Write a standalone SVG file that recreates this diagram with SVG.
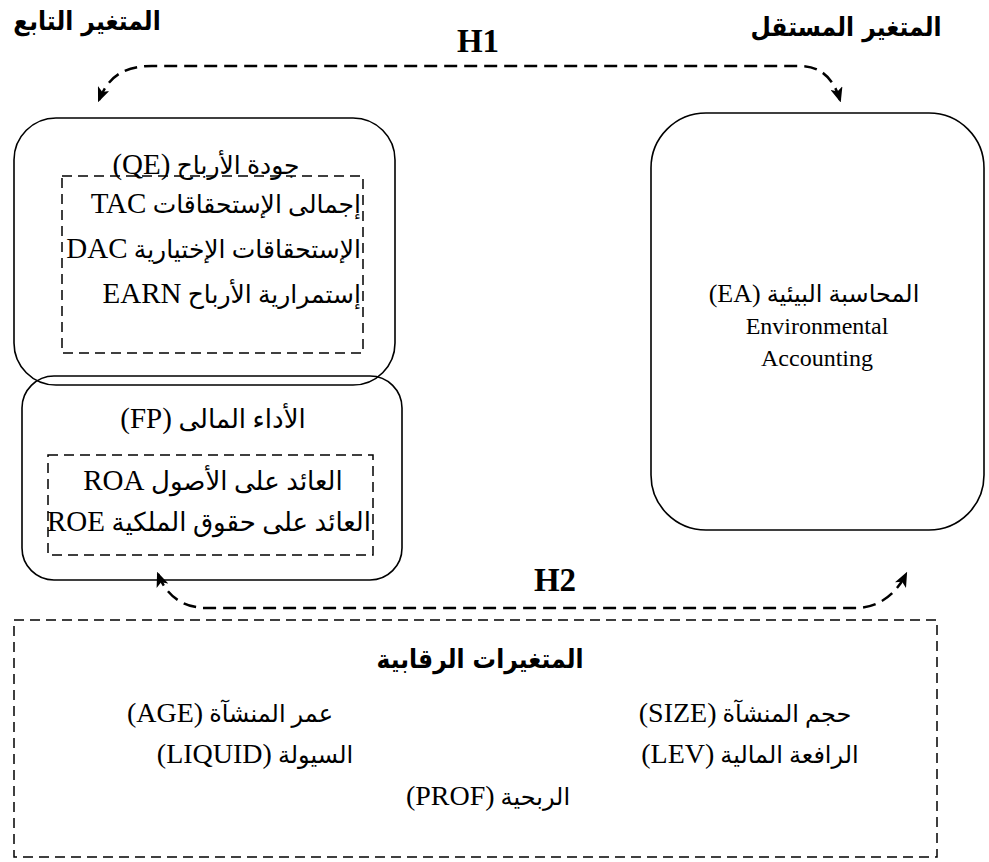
<svg xmlns="http://www.w3.org/2000/svg" width="989" height="862" viewBox="0 0 989 862">
<style>
text{font-family:"Liberation Serif","DejaVu Sans",serif;fill:#000}
.t{font-size:24px}
.q{font-size:25px}
.f{font-size:26px}
.L{font-size:29px}
.Lc{font-size:28px}
.h{font-size:26px;font-weight:bold;font-family:"DejaVu Sans Condensed","DejaVu Sans",sans-serif;font-stretch:condensed}
.hl{font-size:33px;font-weight:bold}
.box{fill:none;stroke:#000;stroke-width:1.6}
.dbox{fill:none;stroke:#000;stroke-width:1.5;stroke-dasharray:10 6}
.conn{fill:none;stroke:#000;stroke-width:2.5;stroke-dasharray:13 7}
</style>
<defs>
<marker id="ah" viewBox="0 0 12 10" refX="10" refY="5" markerWidth="6" markerHeight="5" markerUnits="strokeWidth" orient="auto-start-reverse">
<path d="M0,0 L12,5 L0,10 L3,5 Z" fill="#000"/>
</marker>
</defs>
<rect width="989" height="862" fill="#fff"/>
<g id="labels">
<text class="h" x="87" y="30" text-anchor="middle" direction="rtl">المتغير التابع</text>
<text class="h" x="846" y="36" text-anchor="middle" direction="rtl">المتغير المستقل</text>
<text class="hl" x="478" y="52" text-anchor="middle">H1</text>
<text class="hl" x="555" y="591" text-anchor="middle">H2</text>
</g>
<g id="node-qe">
<rect class="box" x="14" y="118" width="381" height="267" rx="42"/>
<rect class="dbox" x="62" y="176" width="301" height="177"/>
<text class="q" x="206" y="174" text-anchor="middle" direction="rtl">جودة الأرباح <tspan class="L">(QE)</tspan></text>
<text class="q" x="361" y="213" text-anchor="start" direction="rtl">إجمالى الإستحقاقات <tspan class="L">TAC</tspan></text>
<text class="q" x="361" y="258" text-anchor="start" direction="rtl">الإستحقاقات الإختيارية <tspan class="L">DAC</tspan></text>
<text class="q" x="361" y="303" text-anchor="start" direction="rtl">إستمرارية الأرباح <tspan class="L">EARN</tspan></text>
</g>
<g id="node-fp">
<rect class="box" x="22" y="376" width="380" height="204" rx="32"/>
<rect class="dbox" x="48" y="455" width="325" height="100"/>
<text class="f" x="213" y="428" text-anchor="middle" direction="rtl">الأداء المالى <tspan class="L">(FP)</tspan></text>
<text class="f" x="213" y="490" text-anchor="middle" direction="rtl">العائد على الأصول <tspan class="L">ROA</tspan></text>
<text class="f" x="371" y="531" text-anchor="start" direction="rtl">العائد على حقوق الملكية <tspan class="L">ROE</tspan></text>
</g>
<g id="node-ea">
<rect class="box" x="651" y="113" width="333" height="417" rx="55"/>
<text class="t" x="814" y="302" text-anchor="middle" direction="rtl">المحاسبة البيئية <tspan font-size="26">(EA)</tspan></text>
<text class="t" x="817" y="334" text-anchor="middle">Environmental</text>
<text class="t" x="817" y="366" text-anchor="middle">Accounting</text>
</g>
<g id="node-controls">
<rect class="dbox" x="14" y="620" width="923" height="237"/>
<text class="h" x="480" y="668" text-anchor="middle" direction="rtl">المتغيرات الرقابية</text>
<text class="t" x="230" y="722" text-anchor="middle" direction="rtl">عمر المنشآة <tspan class="Lc">(AGE)</tspan></text>
<text class="t" x="745" y="722" text-anchor="middle" direction="rtl">حجم المنشآة <tspan class="Lc">(SIZE)</tspan></text>
<text class="t" x="255" y="763" text-anchor="middle" direction="rtl">السيولة <tspan class="Lc">(LIQUID)</tspan></text>
<text class="t" x="750" y="763" text-anchor="middle" direction="rtl">الرافعة المالية <tspan class="Lc">(LEV)</tspan></text>
<text class="t" x="488" y="805" text-anchor="middle" direction="rtl">الربحية <tspan class="Lc">(PROF)</tspan></text>
</g>
<g id="connectors">
<path class="conn" d="M 99,100 C 108,78 122,66 152,66 L 800,66 C 822,66 834,80 840,100" marker-start="url(#ah)" marker-end="url(#ah)"/>
<path class="conn" d="M 158,574 C 166,595 182,608 207,608 L 855,608 C 877,608 895,596 906,574" marker-start="url(#ah)" marker-end="url(#ah)"/>
</g>
</svg>
